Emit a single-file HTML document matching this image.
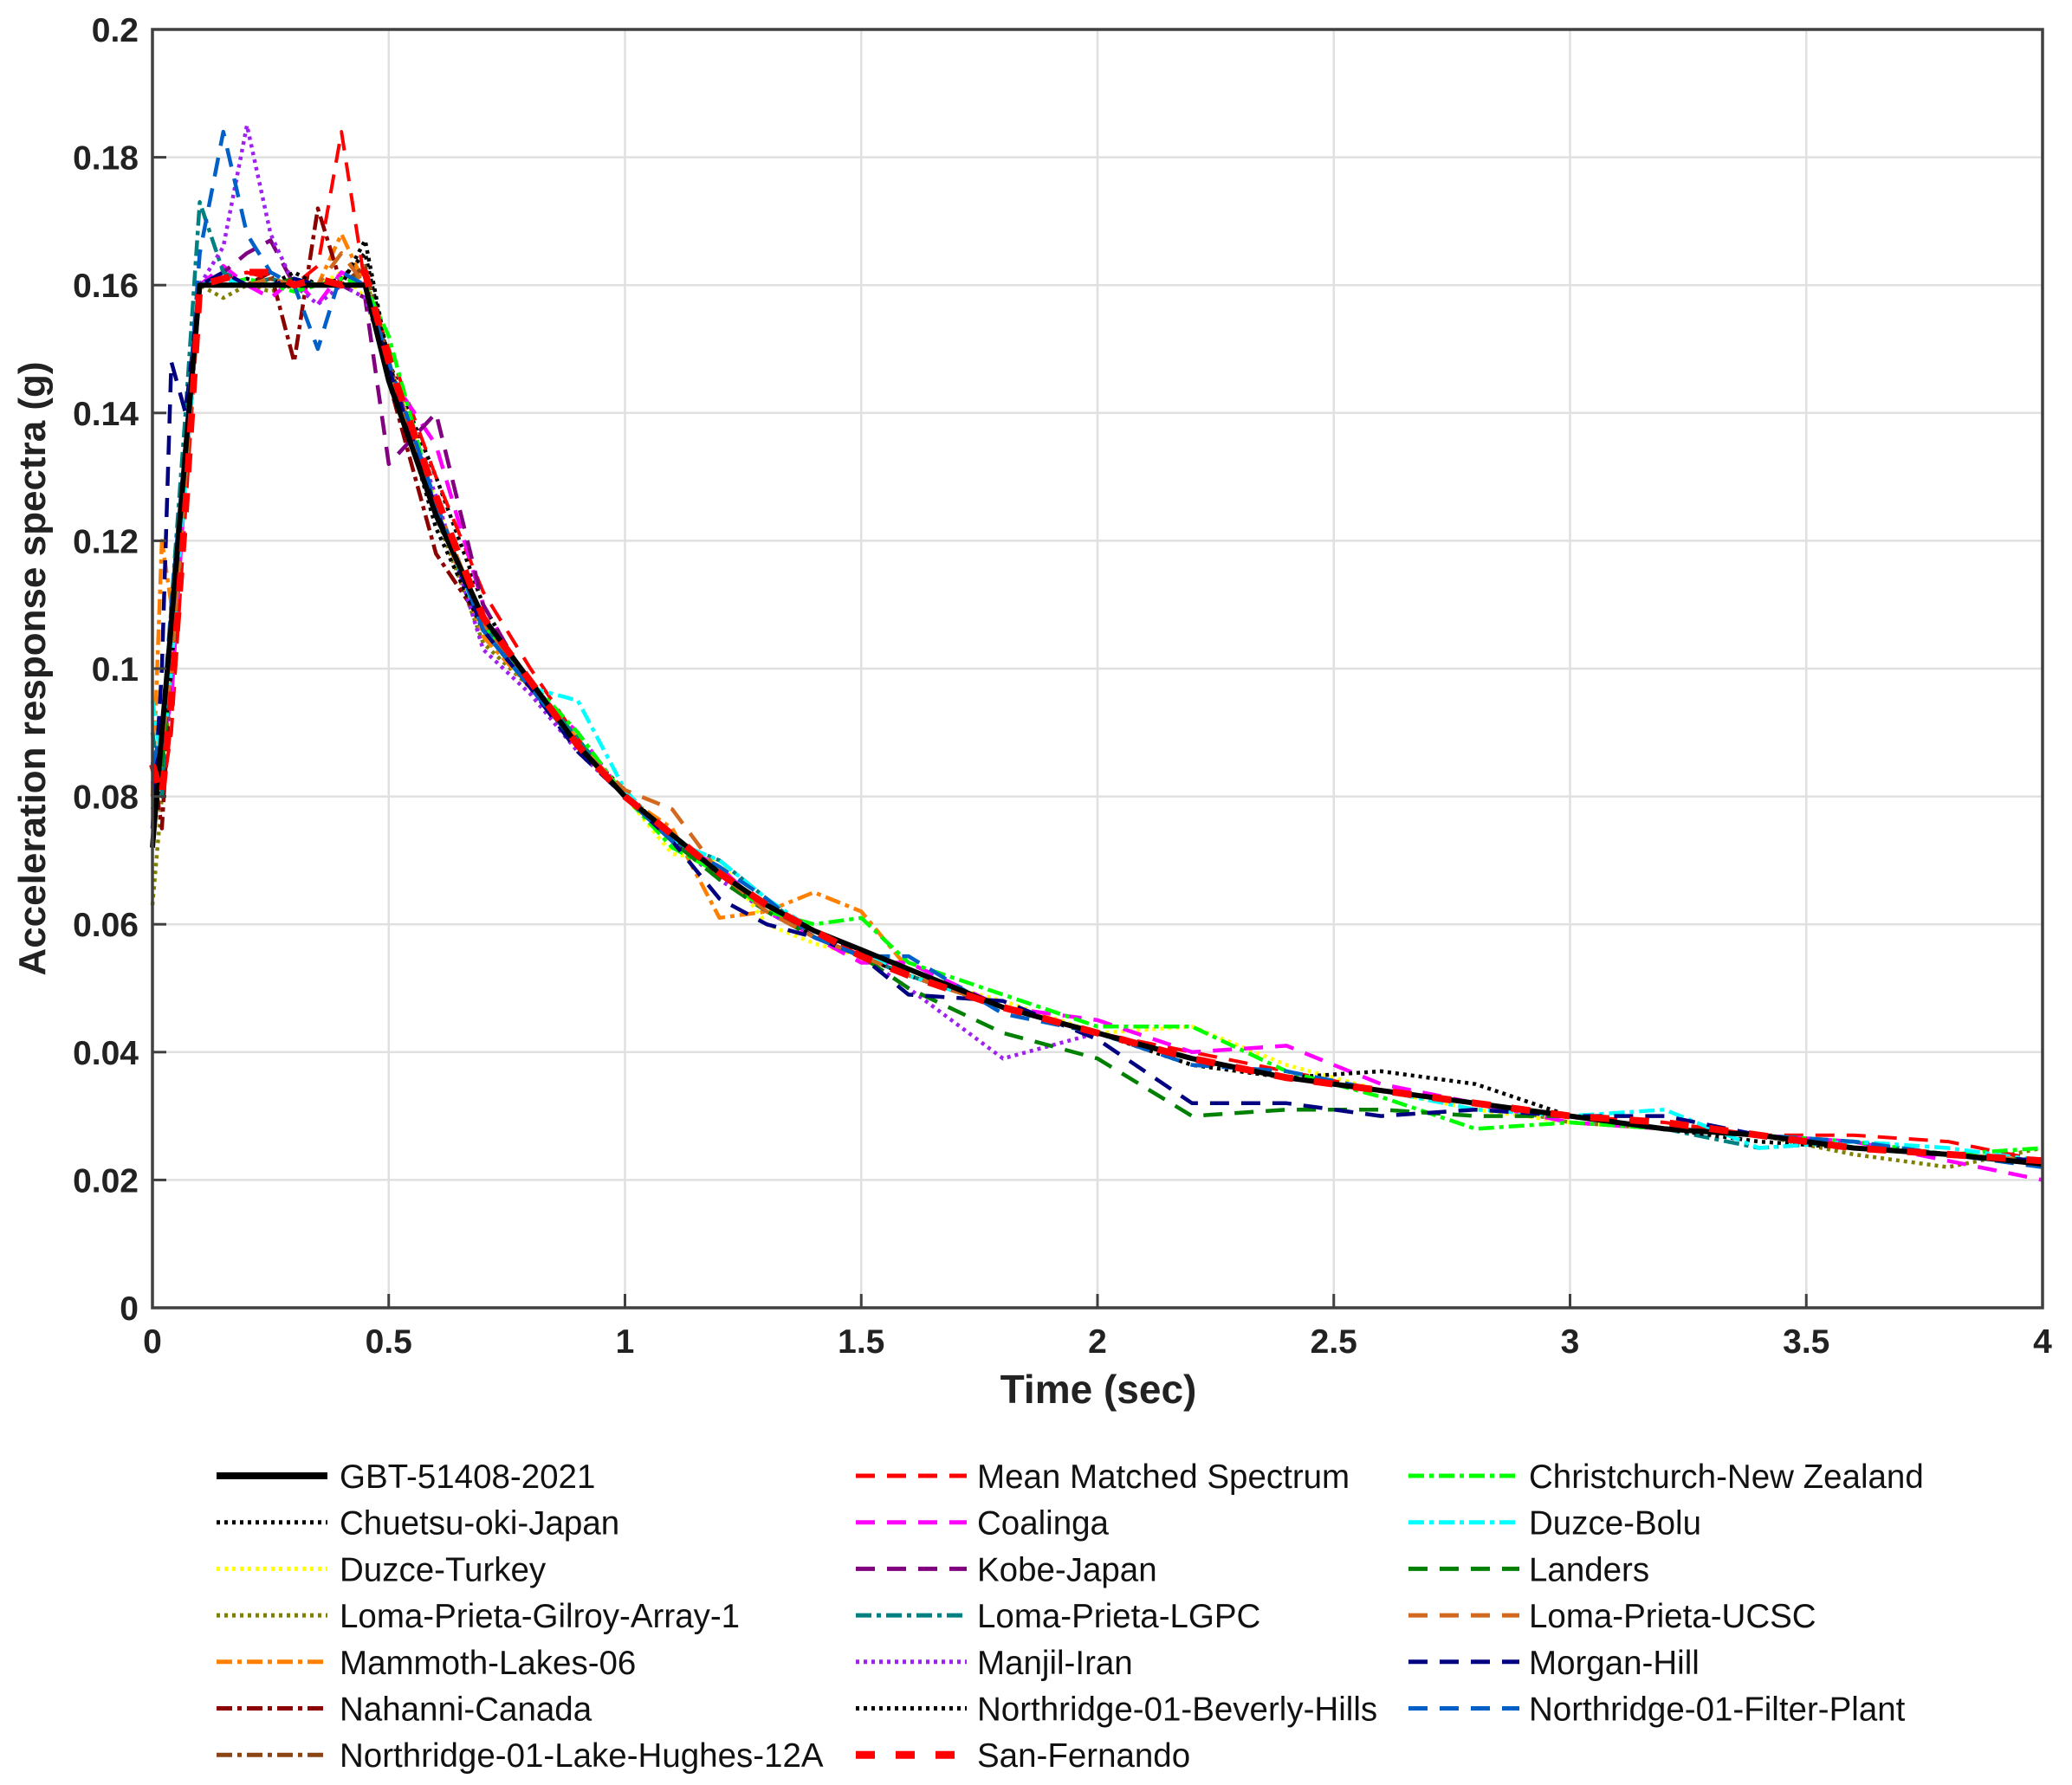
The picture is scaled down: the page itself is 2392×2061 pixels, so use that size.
<!DOCTYPE html>
<html><head><meta charset="utf-8"><style>
html,body{margin:0;padding:0;background:#fff;}
svg{display:block;font-family:"Liberation Sans",sans-serif;}
</style></head><body>
<svg id="chart" width="2392" height="2061" viewBox="0 0 2392 2061" xmlns="http://www.w3.org/2000/svg">
<g id="grid"></g>
<g id="series"></g>
<g id="axes"></g>
<text x="1268" y="1620" font-size="46" font-weight="bold" text-anchor="middle" fill="#222">Time (sec)</text>
<text transform="translate(52,772) rotate(-90)" font-size="44" font-weight="bold" text-anchor="middle" fill="#222">Acceleration response spectra (g)</text>
<g id="legend"></g>
</svg>
<script>
const periods=[0,0.02,0.04,0.07,0.1,0.15,0.2,0.25,0.3,0.35,0.4,0.45,0.5,0.6,0.7,0.8,0.9,1.0,1.1,1.2,1.3,1.4,1.5,1.6,1.8,2.0,2.2,2.4,2.6,2.8,3.0,3.2,3.4,3.6,3.8,4.0];
const xTicks=[0,0.5,1,1.5,2,2.5,3,3.5,4];
const xTickLabels=["0","0.5","1","1.5","2","2.5","3","3.5","4"];
const yTicks=[0,0.02,0.04,0.06,0.08,0.1,0.12,0.14,0.16,0.18,0.2];
const yTickLabels=["0","0.02","0.04","0.06","0.08","0.1","0.12","0.14","0.16","0.18","0.2"];
const gbt=[0.072,0.090,0.107,0.134,0.160,0.160,0.160,0.160,0.160,0.160,0.160,0.160,0.145,0.124,0.108,0.098,0.088,0.080,0.074,0.068,0.063,0.059,0.056,0.053,0.047,0.043,0.039,0.036,0.034,0.032,0.030,0.028,0.027,0.025,0.024,0.0225];
const meanMatched=[0.085,0.080,0.090,0.125,0.160,0.161,0.162,0.161,0.160,0.163,0.184,0.160,0.150,0.130,0.112,0.100,0.089,0.080,0.074,0.067,0.063,0.059,0.055,0.052,0.047,0.043,0.040,0.037,0.034,0.032,0.030,0.029,0.027,0.027,0.026,0.023];
const christchurch=[0.080,0.085,0.100,0.130,0.160,0.160,0.161,0.160,0.159,0.160,0.161,0.160,0.152,0.125,0.107,0.098,0.090,0.080,0.072,0.068,0.062,0.060,0.061,0.054,0.049,0.044,0.044,0.037,0.033,0.028,0.029,0.028,0.027,0.026,0.024,0.025];
const chuetsu=[0.078,0.082,0.110,0.135,0.160,0.160,0.160,0.161,0.160,0.160,0.161,0.165,0.148,0.130,0.110,0.097,0.088,0.081,0.073,0.068,0.063,0.058,0.056,0.052,0.047,0.043,0.039,0.036,0.034,0.032,0.030,0.028,0.027,0.025,0.024,0.0225];
const coalinga=[0.082,0.088,0.095,0.130,0.160,0.163,0.160,0.158,0.161,0.157,0.162,0.160,0.146,0.135,0.110,0.097,0.090,0.080,0.073,0.069,0.062,0.058,0.054,0.054,0.047,0.045,0.040,0.041,0.035,0.032,0.029,0.028,0.027,0.026,0.023,0.020];
const duzceBolu=[0.095,0.085,0.100,0.130,0.160,0.161,0.160,0.160,0.161,0.160,0.160,0.160,0.147,0.125,0.106,0.097,0.095,0.081,0.073,0.070,0.064,0.059,0.056,0.052,0.047,0.043,0.039,0.036,0.034,0.031,0.030,0.031,0.025,0.026,0.025,0.023];
const duzceTurkey=[0.075,0.082,0.098,0.132,0.160,0.160,0.160,0.160,0.160,0.160,0.162,0.158,0.148,0.126,0.106,0.097,0.088,0.080,0.071,0.070,0.060,0.057,0.055,0.052,0.048,0.043,0.044,0.038,0.034,0.031,0.029,0.028,0.027,0.025,0.024,0.023];
const kobe=[0.085,0.090,0.100,0.130,0.160,0.162,0.165,0.167,0.160,0.160,0.160,0.158,0.132,0.140,0.110,0.097,0.088,0.080,0.073,0.068,0.063,0.058,0.055,0.052,0.047,0.043,0.039,0.036,0.034,0.032,0.030,0.028,0.027,0.025,0.024,0.0225];
const landers=[0.080,0.085,0.100,0.130,0.160,0.160,0.160,0.160,0.161,0.160,0.160,0.160,0.147,0.125,0.107,0.098,0.088,0.080,0.073,0.067,0.062,0.058,0.055,0.050,0.043,0.039,0.030,0.031,0.031,0.030,0.030,0.028,0.027,0.025,0.024,0.023];
const gilroy=[0.063,0.080,0.100,0.132,0.160,0.158,0.160,0.159,0.160,0.160,0.160,0.162,0.146,0.124,0.104,0.097,0.088,0.080,0.074,0.068,0.063,0.058,0.055,0.052,0.047,0.043,0.038,0.036,0.034,0.032,0.029,0.028,0.027,0.024,0.022,0.025];
const lgpc=[0.090,0.080,0.110,0.140,0.173,0.162,0.160,0.161,0.160,0.160,0.160,0.160,0.146,0.125,0.107,0.098,0.089,0.080,0.073,0.070,0.064,0.058,0.055,0.052,0.047,0.043,0.039,0.036,0.034,0.032,0.030,0.028,0.025,0.026,0.024,0.023];
const ucsc=[0.080,0.088,0.100,0.130,0.160,0.160,0.160,0.161,0.160,0.160,0.165,0.160,0.147,0.126,0.107,0.098,0.088,0.081,0.078,0.068,0.062,0.058,0.055,0.052,0.047,0.043,0.039,0.036,0.034,0.032,0.030,0.028,0.027,0.025,0.024,0.023];
const mammoth=[0.080,0.120,0.110,0.130,0.160,0.160,0.160,0.160,0.161,0.160,0.168,0.160,0.148,0.125,0.105,0.097,0.089,0.080,0.075,0.061,0.062,0.065,0.062,0.053,0.047,0.043,0.039,0.036,0.034,0.032,0.030,0.028,0.027,0.025,0.024,0.023];
const manjil=[0.085,0.090,0.105,0.130,0.160,0.166,0.185,0.168,0.160,0.157,0.160,0.158,0.147,0.127,0.103,0.096,0.087,0.080,0.073,0.067,0.062,0.058,0.055,0.050,0.039,0.043,0.039,0.036,0.034,0.032,0.030,0.028,0.027,0.025,0.024,0.023];
const morganHill=[0.075,0.100,0.148,0.140,0.160,0.162,0.160,0.160,0.161,0.160,0.160,0.160,0.147,0.125,0.106,0.097,0.087,0.080,0.073,0.064,0.060,0.058,0.055,0.049,0.048,0.042,0.032,0.032,0.030,0.031,0.030,0.030,0.027,0.025,0.024,0.023];
const nahanni=[0.085,0.075,0.100,0.130,0.160,0.160,0.160,0.162,0.148,0.172,0.160,0.160,0.145,0.118,0.107,0.097,0.088,0.080,0.073,0.068,0.063,0.058,0.055,0.052,0.047,0.043,0.039,0.036,0.034,0.032,0.030,0.028,0.027,0.025,0.024,0.023];
const beverly=[0.080,0.085,0.100,0.130,0.160,0.160,0.161,0.160,0.162,0.160,0.160,0.167,0.148,0.122,0.106,0.097,0.088,0.080,0.073,0.068,0.063,0.058,0.055,0.052,0.047,0.043,0.038,0.036,0.037,0.035,0.030,0.028,0.026,0.025,0.024,0.023];
const filterPlant=[0.085,0.090,0.110,0.135,0.165,0.184,0.168,0.162,0.160,0.150,0.162,0.160,0.148,0.126,0.106,0.097,0.088,0.080,0.073,0.069,0.064,0.058,0.055,0.055,0.046,0.043,0.038,0.037,0.034,0.032,0.030,0.028,0.027,0.026,0.024,0.022];
const lakeHughes=[0.080,0.085,0.100,0.130,0.160,0.160,0.160,0.161,0.160,0.160,0.160,0.163,0.148,0.125,0.107,0.098,0.088,0.080,0.073,0.068,0.063,0.058,0.055,0.052,0.047,0.043,0.039,0.036,0.034,0.032,0.030,0.028,0.027,0.025,0.024,0.023];
const sanFernando=[0.085,0.080,0.095,0.125,0.160,0.161,0.162,0.162,0.160,0.161,0.160,0.162,0.148,0.127,0.108,0.098,0.088,0.080,0.074,0.068,0.063,0.059,0.055,0.052,0.047,0.043,0.039,0.036,0.034,0.032,0.030,0.029,0.027,0.025,0.024,0.023];

const L=176,R=2358,T=34,B=1510;
const X=v=>L+(v/4)*(R-L);
const Y=v=>B-(v/0.2)*(B-T);
const NS="http://www.w3.org/2000/svg";
function mk(tag,attrs,parent){const e=document.createElementNS(NS,tag);for(const k in attrs)e.setAttribute(k,attrs[k]);parent.appendChild(e);return e;}
const DOT="4,5",DASH="22,14",DD="18,6,5,6";
const series=[
 {name:"GBT-51408-2021",d:gbt,c:"#000",w:6,da:"none",id:"gbt"},
 {name:"Chuetsu-oki-Japan",d:chuetsu,c:"#000",w:4.5,da:DOT,id:"chuetsu"},
 {name:"Duzce-Turkey",d:duzceTurkey,c:"#ffff00",w:4.5,da:DOT,id:"duzce-turkey"},
 {name:"Loma-Prieta-Gilroy-Array-1",d:gilroy,c:"#808000",w:4.5,da:DOT,id:"gilroy"},
 {name:"Mammoth-Lakes-06",d:mammoth,c:"#ff8000",w:4.5,da:DD,id:"mammoth"},
 {name:"Nahanni-Canada",d:nahanni,c:"#8b0000",w:4.5,da:DD,id:"nahanni"},
 {name:"Northridge-01-Lake-Hughes-12A",d:lakeHughes,c:"#8b4513",w:4.5,da:DD,id:"lake-hughes"},
 {name:"Mean Matched Spectrum",d:meanMatched,c:"#ff0000",w:4,da:DASH,id:"mean-matched"},
 {name:"Coalinga",d:coalinga,c:"#ff00ff",w:4.5,da:DASH,id:"coalinga"},
 {name:"Kobe-Japan",d:kobe,c:"#800080",w:4.5,da:DASH,id:"kobe"},
 {name:"Loma-Prieta-LGPC",d:lgpc,c:"#008080",w:4.5,da:DD,id:"lgpc"},
 {name:"Manjil-Iran",d:manjil,c:"#a020f0",w:4.5,da:DOT,id:"manjil"},
 {name:"Northridge-01-Beverly-Hills",d:beverly,c:"#000",w:4.5,da:DOT,id:"beverly"},
 {name:"San-Fernando",d:sanFernando,c:"#ff0000",w:8,da:"22,24",id:"san-fernando"},
 {name:"Christchurch-New Zealand",d:christchurch,c:"#00ff00",w:4.5,da:DD,id:"christchurch"},
 {name:"Duzce-Bolu",d:duzceBolu,c:"#00ffff",w:4.5,da:DD,id:"duzce-bolu"},
 {name:"Landers",d:landers,c:"#008000",w:4.5,da:DASH,id:"landers"},
 {name:"Loma-Prieta-UCSC",d:ucsc,c:"#d2691e",w:4.5,da:DASH,id:"ucsc"},
 {name:"Morgan-Hill",d:morganHill,c:"#000080",w:4.5,da:DASH,id:"morgan-hill"},
 {name:"Northridge-01-Filter-Plant",d:filterPlant,c:"#0060c8",w:4.5,da:DASH,id:"filter-plant"}
];
const grid=document.getElementById('grid'),axes=document.getElementById('axes'),sg=document.getElementById('series'),lg=document.getElementById('legend');
xTicks.forEach((v,i)=>{
 const g=mk('line',{x1:X(v),x2:X(v),y1:T,y2:B,stroke:"#e0e0e0","stroke-width":2.5},grid);
 
 
 const t=mk('line',{x1:X(v),x2:X(v),y1:B,y2:B-16,stroke:"#404040","stroke-width":3},axes);
 
 
 const lb=mk('text',{x:X(v),y:B+52,"font-size":39,"font-weight":"bold","text-anchor":"middle",fill:"#222"},axes);
 lb.textContent=xTickLabels[i];
 
 
});
yTicks.forEach((v,i)=>{
 const g=mk('line',{x1:L,x2:R,y1:Y(v),y2:Y(v),stroke:"#e0e0e0","stroke-width":2.5},grid);
 
 
 const t=mk('line',{x1:L,x2:L+16,y1:Y(v),y2:Y(v),stroke:"#404040","stroke-width":3},axes);
 
 
 const lb=mk('text',{x:L-16,y:Y(v)+14,"font-size":39,"font-weight":"bold","text-anchor":"end",fill:"#222"},axes);
 lb.textContent=yTickLabels[i];
 
 
});
const order=series.slice(1).filter(s=>s.id!=="san-fernando").concat([series[0],series[13]]);
order.forEach(s=>{
 const pts=s.d.map((v,i)=>X(periods[i]).toFixed(1)+","+Y(v).toFixed(1)).join(" ");
 const p=mk('polyline',{points:pts,fill:"none",stroke:s.c,"stroke-width":s.w,"stroke-dasharray":s.da,"stroke-linejoin":"round"},sg);
 
 
});
const box=mk('rect',{x:L,y:T,width:R-L,height:B-T,fill:"none",stroke:"#404040","stroke-width":3.5},axes);


const colX=[[250,392],[988,1128],[1626,1765]];
series.forEach((s,i)=>{
 const col=Math.floor(i/7),row=i%7;
 const y=1704+row*53.7;
 const g=mk('g',{},lg);
 
 
 mk('line',{x1:colX[col][0],x2:colX[col][0]+128,y1:y,y2:y,stroke:s.c,"stroke-width":s.id==="gbt"?8:(s.id==="san-fernando"?9:5),"stroke-dasharray":s.da},g);
 const t=mk('text',{x:colX[col][1],y:y+14,"font-size":38.5,fill:"#111"},g);
 t.textContent=s.name;
});
</script>
</body></html>
